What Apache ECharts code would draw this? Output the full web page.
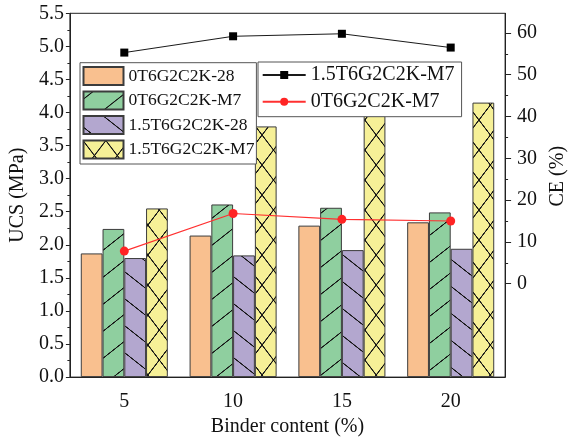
<!DOCTYPE html>
<html>
<head>
<meta charset="utf-8">
<script src="https://cdn.jsdelivr.net/npm/echarts@6/dist/echarts.min.js"></script>
<style>
  html, body { margin: 0; padding: 0; background: #fff; }
  #chart { width: 576px; height: 442px; }
</style>
</head>
<body>
<div id="chart"></div>
<script>
// Binder content categories (%)
const binderContent = ['5', '10', '15', '20'];

// UCS (MPa) bars
const ucs0T28 = [1.87, 2.14, 2.29, 2.34];
const ucs0TM7 = [2.24, 2.61, 2.56, 2.49];
const ucs15T28 = [1.80, 1.84, 1.92, 1.94];
const ucs15TM7 = [2.55, 3.79, 3.95, 4.15];

// CE (%) lines
const ce15TM7 = [55.3, 59.2, 59.8, 56.5];
const ce0TM7 = [7.8, 16.8, 15.4, 15.0];

// Right axis tick values
const ceTicks = [0, 10, 20, 30, 40, 50, 60];
const ceMinorTicks = [5, 15, 25, 35, 45, 55];

const SERIF = '"Liberation Serif", "Times New Roman", serif';
const INK = '#111';

// Hatch fill built on a small canvas tile (drawn at 3x and scaled back down)
function hatchFill(bg, tileW, tileH, slash, backslash, ox, oy) {
  const k = 3;
  const cw = Math.round(tileW * k), ch = Math.round(tileH * k);
  const c = document.createElement('canvas');
  c.width = cw; c.height = ch;
  const g = c.getContext('2d');
  g.fillStyle = bg;
  g.fillRect(0, 0, cw, ch);
  g.strokeStyle = '#151515';
  g.lineWidth = 1.1 * k;
  [-ch, 0, ch].forEach(d => {
    if (slash) {
      g.beginPath();
      g.moveTo(-cw, 2 * ch + d);
      g.lineTo(2 * cw, -ch + d);
      g.stroke();
    }
    if (backslash) {
      g.beginPath();
      g.moveTo(-cw, -ch + d);
      g.lineTo(2 * cw, 2 * ch + d);
      g.stroke();
    }
  });
  return {
    image: c, repeat: 'repeat',
    x: ox, y: oy,
    scaleX: tileW / cw, scaleY: tileH / ch
  };
}

const orangeFill = '#F9C08F';
const greenFill = hatchFill('#8FCF9F', 34.2, 27, true, false, 102, 8);
const purpleFill = hatchFill('#B3A7CF', 34.2, 27, false, true, 125, 2);
const yellowFill = hatchFill('#F6F097', 22.83, 30, true, true, 147.9, 105);

const barBorder = { borderColor: '#3c3c3c', borderWidth: 1 };

const chart = echarts.init(document.getElementById('chart'), null, { renderer: 'canvas' });

chart.setOption({
  animation: false,
  backgroundColor: '#fff',
  grid: {
    left: 68, right: 51.5, top: 13.3, bottom: 58.7,
    show: true, borderColor: '#222', borderWidth: 1, backgroundColor: 'transparent'
  },
  legend: [
    {
      data: ['0T6G2C2K-28', '0T6G2C2K-M7', '1.5T6G2C2K-28', '1.5T6G2C2K-M7'],
      orient: 'vertical',
      left: 80, top: 62.7,
      itemWidth: 40, itemHeight: 18, itemGap: 4.5,
      icon: 'rect',
      padding: [3.3, 2, 4.5, 2.5],
      borderColor: '#555', borderWidth: 1,
      backgroundColor: '#fff',
      selectedMode: false,
      textStyle: { fontFamily: SERIF, fontSize: 17.5, color: INK }
    },
    {
      data: ['CE 1.5T6G2C2K-M7', 'CE 0T6G2C2K-M7'],
      formatter: n => n.replace('CE ', ''),
      orient: 'vertical',
      left: 258, top: 62,
      itemWidth: 43, itemHeight: 10, itemGap: 6.7,
      padding: [3, 7, 5, 3.7],
      borderColor: '#555', borderWidth: 1,
      backgroundColor: '#fff',
      selectedMode: false,
      textStyle: { fontFamily: SERIF, fontSize: 20, color: INK }
    }
  ],
  xAxis: [
    {
      type: 'category',
      data: binderContent,
      boundaryGap: true,
      axisLine: { lineStyle: { color: '#222', width: 1 } },
      axisTick: { alignWithLabel: true, length: 5, lineStyle: { color: '#222' } },
      axisLabel: { fontFamily: SERIF, fontSize: 20, color: INK, margin: 15 },
      splitLine: { show: false },
      name: 'Binder content (%)',
      nameLocation: 'middle',
      nameGap: 37,
      nameTextStyle: { fontFamily: SERIF, fontSize: 20, color: INK }
    },
    {
      // short ticks on the category boundaries
      type: 'category',
      data: binderContent,
      position: 'bottom',
      boundaryGap: true,
      axisLine: { show: false },
      axisTick: { length: 3, lineStyle: { color: '#222' } },
      axisLabel: { show: false },
      splitLine: { show: false }
    }
  ],
  yAxis: [
    {
      type: 'value',
      min: 0, max: 5.5, interval: 0.5,
      position: 'left',
      axisLine: { show: true, lineStyle: { color: '#222', width: 1 } },
      axisTick: { show: true, length: 4, lineStyle: { color: '#222' } },
      minorTick: { show: true, splitNumber: 2, length: 2.5, lineStyle: { color: '#222' } },
      axisLabel: {
        fontFamily: SERIF, fontSize: 20, color: INK, margin: 6,
        formatter: v => v.toFixed(1)
      },
      splitLine: { show: false },
      name: 'UCS (MPa)',
      nameLocation: 'middle',
      nameGap: 41,
      nameTextStyle: { fontFamily: SERIF, fontSize: 20, color: INK }
    },
    {
      type: 'value',
      min: -22.35, max: 64.7,
      position: 'right',
      axisLine: { show: true, lineStyle: { color: '#222', width: 1 } },
      axisTick: { show: true, length: 6, customValues: ceTicks, lineStyle: { color: '#222' } },
      axisLabel: { fontFamily: SERIF, fontSize: 20, color: INK, margin: 12, customValues: ceTicks },
      splitLine: { show: false },
      name: 'CE (%)',
      nameLocation: 'middle',
      nameGap: 31,
      nameTextStyle: { fontFamily: SERIF, fontSize: 20, color: INK, padding: [0, 0, 0, 38] }
    },
    {
      // minor ticks of the CE axis
      type: 'value',
      min: -22.35, max: 64.7,
      position: 'right',
      axisLine: { show: false },
      axisTick: { show: true, length: 3, customValues: ceMinorTicks, lineStyle: { color: '#222' } },
      axisLabel: { show: false },
      splitLine: { show: false }
    }
  ],
  series: [
    {
      name: '0T6G2C2K-28', type: 'bar', xAxisIndex: 0, yAxisIndex: 0,
      data: ucs0T28, barWidth: '20%', barGap: '0%',
      itemStyle: Object.assign({ color: orangeFill }, barBorder)
    },
    {
      name: '0T6G2C2K-M7', type: 'bar', xAxisIndex: 0, yAxisIndex: 0,
      data: ucs0TM7, barWidth: '20%', barGap: '0%',
      itemStyle: Object.assign({ color: greenFill }, barBorder)
    },
    {
      name: '1.5T6G2C2K-28', type: 'bar', xAxisIndex: 0, yAxisIndex: 0,
      data: ucs15T28, barWidth: '20%', barGap: '0%',
      itemStyle: Object.assign({ color: purpleFill }, barBorder)
    },
    {
      name: '1.5T6G2C2K-M7', type: 'bar', xAxisIndex: 0, yAxisIndex: 0,
      data: ucs15TM7, barWidth: '20%', barGap: '0%',
      itemStyle: Object.assign({ color: yellowFill }, barBorder)
    },
    {
      name: 'CE 1.5T6G2C2K-M7', type: 'line', xAxisIndex: 0, yAxisIndex: 1,
      data: ce15TM7,
      symbol: 'rect', symbolSize: 8,
      itemStyle: { color: '#000' },
      lineStyle: { color: '#1a1a1a', width: 1 },
      z: 5
    },
    {
      name: 'CE 0T6G2C2K-M7', type: 'line', xAxisIndex: 0, yAxisIndex: 1,
      data: ce0TM7,
      symbol: 'circle', symbolSize: 9,
      itemStyle: { color: '#FF2424' },
      lineStyle: { color: '#FF3030', width: 1.2 },
      z: 5
    }
  ]
});
</script>
</body>
</html>
